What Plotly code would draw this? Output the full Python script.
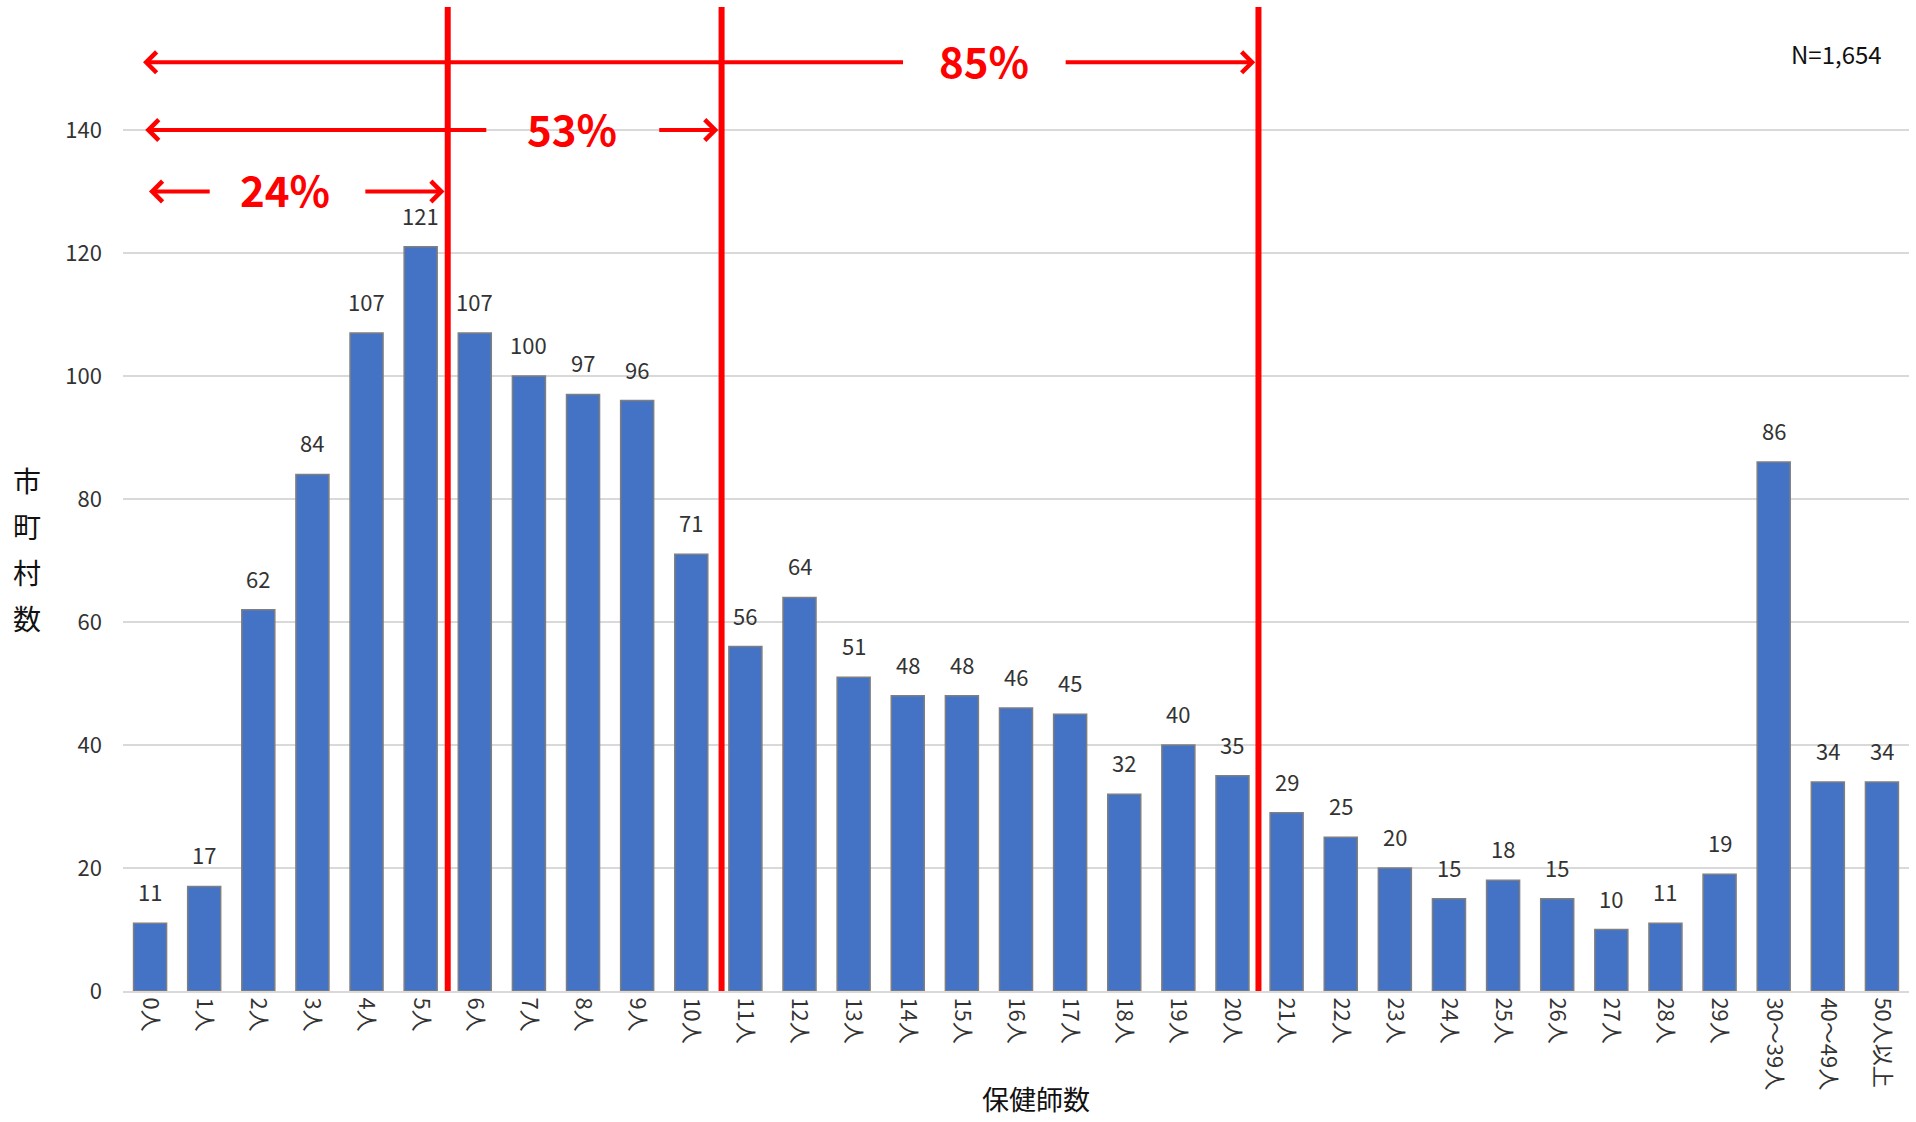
import plotly.graph_objects as go

# 保健師数別の市町村数
categories = ["0人", "1人", "2人", "3人", "4人", "5人", "6人", "7人", "8人", "9人",
              "10人", "11人", "12人", "13人", "14人", "15人", "16人", "17人", "18人", "19人",
              "20人", "21人", "22人", "23人", "24人", "25人", "26人", "27人", "28人", "29人",
              "30～39人", "40～49人", "50人以上"]
counts = [11, 17, 62, 84, 107, 121, 107, 100, 97, 96,
          71, 56, 64, 51, 48, 48, 46, 45, 32, 40,
          35, 29, 25, 20, 15, 18, 15, 10, 11, 19,
          86, 34, 34]
y_ticks = [0, 20, 40, 60, 80, 100, 120, 140]

# 累積割合の区切り
cut_after = ["5人", "10人", "20人"]
share_labels = ["24%", "53%", "85%"]
n_label = "N=1,654"

FONT = "Noto Sans CJK JP"
RED = "#ff0000"

# plot area in pixels (for placing free text)
W, H = 1916, 1122
L, R, T, B = 123, 7, 7, 131
PW, PH = W - L - R, H - T - B


def px_to_paper(x=None, y=None):
    out = []
    if x is not None:
        out.append((x - L) / PW)
    if y is not None:
        out.append((H - B - y) / PH)
    return out[0] if len(out) == 1 else out


fig = go.Figure()
fig.add_trace(go.Bar(
    x=categories, y=counts,
    marker=dict(color="#4472c4", line=dict(color="#7f7f7f", width=1.5)),
    hoverinfo="x+y",
))

annotations = []
for c, v in zip(categories, counts):
    annotations.append(dict(x=c, y=v, text=str(v), showarrow=False, yanchor="bottom",
                            yshift=14, font=dict(family=FONT, size=22, color="#333333")))

# the hand-drawn lines in the original sit a touch off the category boundary
line_nudge = [0.0, 0.06, -0.02]
shapes = []
cut_pos = [categories.index(c) + 0.5 + d for c, d in zip(cut_after, line_nudge)]
for xp in cut_pos:
    shapes.append(dict(type="line", xref="x", yref="paper", x0=xp, x1=xp, y0=0, y1=1,
                       line=dict(color=RED, width=6)))

# bracket rows: (y value, left head, gap start, gap end, text centre)
rows = [
    (130, -0.02, 1.13, 3.95, 2.5),
    (140, -0.09, 6.24, 9.38, 7.8),
    (151, -0.13, 13.94, 16.89, 15.4),
]
for (yv, x_left, g0, g1, xt), xr, lab in zip(rows, cut_pos, share_labels):
    arrow = dict(showarrow=True, text="", axref="x", ayref="y", arrowhead=4, arrowsize=1,
                 arrowwidth=4, arrowcolor=RED, standoff=0, startstandoff=0)
    annotations.append(dict(arrow, x=x_left, y=yv, ax=g0, ay=yv))
    annotations.append(dict(arrow, x=xr - 0.06, y=yv, ax=g1, ay=yv))
    annotations.append(dict(x=xt, y=yv, text=f"<b>{lab}</b>", showarrow=False, yshift=3,
                            font=dict(family=FONT, size=42, color=RED)))

annotations.append(dict(xref="paper", yref="paper", x=px_to_paper(x=1884), y=px_to_paper(y=54),
                        text=n_label, showarrow=False, xanchor="right", yanchor="middle",
                        font=dict(family=FONT, size=24, color="#111111")))
annotations.append(dict(xref="paper", yref="paper", x=px_to_paper(x=1036), y=px_to_paper(y=1098),
                        text="保健師数", showarrow=False, xanchor="center", yanchor="middle",
                        font=dict(family=FONT, size=27, color="#111111")))
for i, ch in enumerate("市町村数"):
    annotations.append(dict(xref="paper", yref="paper", x=px_to_paper(x=27),
                            y=px_to_paper(y=480 + 46 * i), text=ch, showarrow=False,
                            xanchor="center", yanchor="middle",
                            font=dict(family=FONT, size=28, color="#111111")))

fig.update_layout(
    width=W, height=H,
    margin=dict(l=L, r=R, t=T, b=B),
    plot_bgcolor="white", paper_bgcolor="white",
    bargap=0.39,
    showlegend=False,
    font=dict(family=FONT, size=22, color="#333333"),
    annotations=annotations,
    shapes=shapes,
)
fig.update_xaxes(
    type="category", tickangle=90, showgrid=False,
    showline=True, linecolor="#d9d9d9", linewidth=2,
    tickfont=dict(family=FONT, size=22, color="#333333"),
)
fig.update_yaxes(
    range=[0, 160], tickvals=y_ticks, showgrid=True, gridcolor="#d9d9d9", gridwidth=1.5,
    zeroline=False, ticklabelstandoff=20,
    tickfont=dict(family=FONT, size=22, color="#333333"),
)

fig.write_html("out.html", config={"displayModeBar": False},
               post_script="document.body.style.margin='0';")
